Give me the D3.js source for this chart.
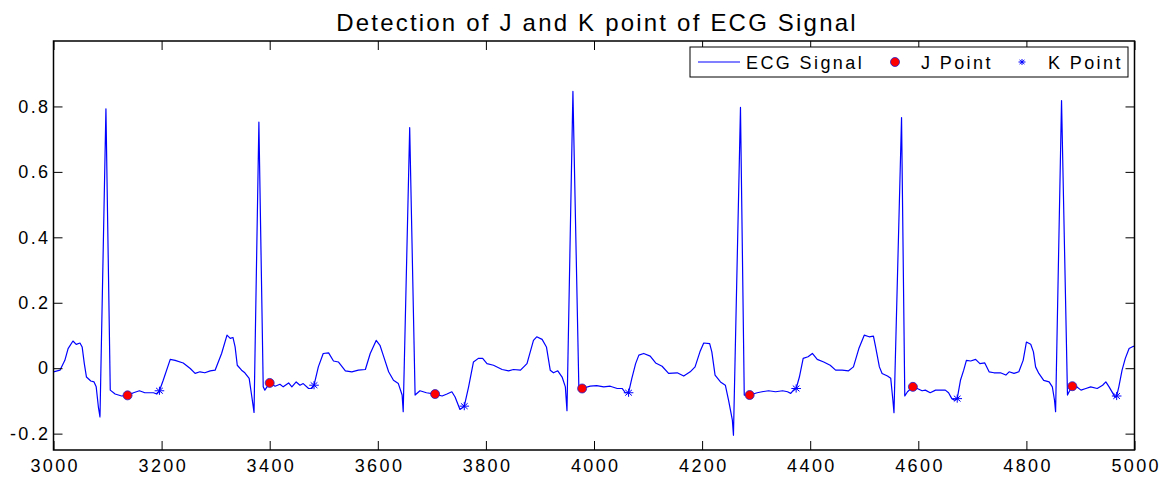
<!DOCTYPE html>
<html>
<head>
<meta charset="utf-8">
<script src="https://cdn.jsdelivr.net/npm/d3@7"></script>
<style>
  html, body { margin: 0; padding: 0; background: #fff; }
  svg { display: block; font-family: "Liberation Sans", Arial, sans-serif; }
</style>
</head>
<body>
<svg id="chart" width="1168" height="479"></svg>
<script>
// ---- Data ----
const sampleIdx = [
  3000,3012,3021,3027,3036,3042,3049,3053,3057,3061,3069,3075,3079,3083,3086,3097,3105,3114,3126,3137,3148,3159,3169,3185,3191,3196,
  3203,3216,3225,3240,3253,3262,3271,3280,3290,3299,3311,3321,3327,3332,3336,3340,3348,3354,3362,3367,3371,3380,3388,3391,3400,3410,
  3419,3425,3435,3441,3449,3456,3462,3472,3478,3482,3490,3499,3509,3518,3527,3540,3552,3564,3577,3586,3597,3604,3610,3620,3629,3638,
  3645,3647,3659,3669,3678,3690,3706,3719,3728,3737,3743,3752,3760,3768,3777,3786,3794,3802,3814,3830,3842,3851,3864,3876,3888,3894,
  3904,3912,3919,3925,3933,3941,3947,3950,3961,3972,3978,3993,4005,4018,4030,4043,4052,4058,4064,4070,4077,4083,4092,4104,4114,4126,
  4138,4154,4166,4178,4187,4196,4203,4214,4218,4224,4234,4243,4249,4256,4258,4271,4278,4288,4302,4311,4323,4336,4349,4358,4364,4369,
  4374,4380,4387,4396,4404,4413,4425,4437,4447,4459,4471,4480,4490,4500,4509,4517,4521,4528,4533,4543,4549,4553,4555,4569,4575,4580,
  4590,4598,4607,4613,4622,4632,4641,4650,4656,4662,4667,4672,4678,4684,4689,4697,4706,4714,4723,4731,4740,4752,4762,4768,4777,4786,
  4794,4800,4808,4813,4817,4823,4832,4842,4848,4852,4854,4865,4876,4879,4885,4893,4901,4910,4919,4931,4941,4947,4953,4960,4964,4967,
  4971,4977,4983,4990,4998,5000
];
const ecgValues = [
  -0.011,-0.006,0.024,0.060,0.083,0.073,0.077,0.065,0.014,-0.027,-0.039,-0.042,-0.057,-0.118,-0.149,0.793,-0.067,-0.079,-0.085,-0.083,-0.075,-0.069,-0.075,-0.075,-0.079,-0.069,
  -0.037,0.027,0.024,0.016,-0.001,-0.016,-0.011,-0.014,-0.008,-0.006,0.045,0.101,0.091,0.094,0.065,0.009,-0.006,-0.014,-0.031,-0.088,-0.135,0.752,-0.057,-0.067,-0.045,-0.055,
  -0.049,-0.057,-0.045,-0.057,-0.042,-0.052,-0.047,-0.062,-0.062,-0.052,0.004,0.045,0.047,0.022,0.019,-0.008,-0.011,-0.006,-0.004,0.045,0.085,0.070,0.040,-0.011,-0.037,-0.047,
  -0.082,-0.133,0.735,-0.082,-0.069,-0.075,-0.079,-0.085,-0.079,-0.072,-0.088,-0.126,-0.116,-0.057,0.019,0.030,0.030,0.014,0.009,-0.004,-0.008,-0.004,-0.006,0.014,0.085,0.096,
  0.088,0.065,-0.006,-0.014,-0.008,-0.027,-0.057,-0.130,0.846,-0.062,-0.062,-0.055,-0.053,-0.057,-0.055,-0.062,-0.062,-0.075,-0.075,-0.031,0.014,0.040,0.045,0.037,0.016,0.006,
  -0.016,-0.014,-0.024,-0.011,0.004,0.050,0.077,0.075,0.050,-0.021,-0.042,-0.052,-0.098,-0.159,-0.205,0.797,-0.082,-0.082,-0.075,-0.072,-0.069,-0.072,-0.069,-0.072,-0.077,-0.067,
  -0.062,-0.027,0.030,0.035,0.045,0.027,0.019,0.009,-0.006,-0.006,-0.008,0.004,0.060,0.101,0.096,0.098,0.065,0.004,-0.016,-0.024,-0.031,-0.098,-0.136,0.766,-0.085,-0.072,
  -0.057,-0.062,-0.069,-0.067,-0.075,-0.067,-0.067,-0.067,-0.075,-0.093,-0.098,-0.093,-0.037,-0.006,0.024,0.022,0.027,0.014,0.016,-0.011,-0.014,-0.014,-0.021,-0.011,-0.016,-0.011,
  0.024,0.080,0.073,0.050,0.004,-0.016,-0.037,-0.042,-0.057,-0.098,-0.133,0.818,-0.082,-0.072,-0.055,-0.057,-0.067,-0.062,-0.057,-0.062,-0.052,-0.042,-0.057,-0.077,-0.089,-0.085,
  -0.057,-0.006,0.030,0.060,0.067,0.067
];
const jPointX = [3137, 3400, 3706, 3978, 4288, 4590, 4885];
const jPointY = [-0.083, -0.045, -0.079, -0.062, -0.082, -0.057, -0.055];
const kPointX = [3196, 3482, 3760, 4064, 4374, 4672, 4967];
const kPointY = [-0.069, -0.052, -0.116, -0.075, -0.062, -0.093, -0.085];
const xTicks = [3000, 3200, 3400, 3600, 3800, 4000, 4200, 4400, 4600, 4800, 5000];
const yTicks = [-0.2, 0, 0.2, 0.4, 0.6, 0.8];
const yTickLabels = ["-0.2", "0", "0.2", "0.4", "0.6", "0.8"];
const legendLabels = ["ECG Signal", "J Point", "K Point"];
const titleText = "Detection of J and K point of ECG Signal";

// ---- Layout ----
const svg = d3.select("#chart");
const L = 53.5, R = 1134.5, T = 41, B = 450;
const x = d3.scaleLinear().domain([3000, 5000]).range([L, R]);
const y = d3.scaleLinear().domain([-0.25, 1]).range([B, T]);
const blue = "#0000ff";

// title
svg.append("text")
  .attr("x", 597).attr("y", 31)
  .attr("text-anchor", "middle")
  .style("font-size", "24px").style("letter-spacing", "2.2px")
  .text(titleText);

// data line
const ecg = sampleIdx.map((s, i) => ({ s, v: ecgValues[i] }));
const line = d3.line().x(d => x(d.s)).y(d => y(d.v));
svg.append("path").datum(ecg)
  .attr("d", line)
  .attr("fill", "none").attr("stroke", blue).attr("stroke-width", 1.2)
  .attr("stroke-linejoin", "round");

// J points
svg.append("g").selectAll("circle")
  .data(jPointX.map((s, i) => ({ s, v: jPointY[i] })))
  .join("circle")
  .attr("cx", d => x(d.s)).attr("cy", d => y(d.v)).attr("r", 4.5)
  .attr("fill", "#ff0000").attr("stroke", "#2020d0").attr("stroke-width", 0.8);

// K points (asterisk)
function asterisk(g, cx, cy, s) {
  const p = `M${cx - s},${cy}L${cx + s},${cy}M${cx},${cy - s * 0.85}L${cx},${cy + s * 0.85}` +
            `M${cx - s * 0.7},${cy - s * 0.6}L${cx + s * 0.7},${cy + s * 0.6}M${cx - s * 0.7},${cy + s * 0.6}L${cx + s * 0.7},${cy - s * 0.6}`;
  g.append("path").attr("d", p).attr("stroke", blue).attr("stroke-width", 1).attr("fill", "none");
}
const kG = svg.append("g");
kPointX.forEach((s, i) => asterisk(kG, x(s), y(kPointY[i]), 4.8));

// axes (inward ticks on all four sides)
const tickFont = g => g.selectAll("text")
  .style("font-size", "18px").style("letter-spacing", "2.4px").attr("fill", "#000");
const bottomAxis = svg.append("g").attr("transform", `translate(0,${B})`)
  .call(d3.axisBottom(x).tickValues(xTicks).tickFormat(d3.format("d")).tickSize(-9).tickPadding(9))
  .call(tickFont);
bottomAxis.selectAll("text").attr("dx", "1.2px");
svg.append("g").attr("transform", `translate(0,${T})`)
  .call(d3.axisTop(x).tickValues(xTicks).tickFormat("").tickSize(-9));
svg.append("g").attr("transform", `translate(${L},0)`)
  .call(d3.axisLeft(y).tickValues(yTicks).tickFormat((d, i) => yTickLabels[i]).tickSize(-9).tickPadding(3))
  .call(tickFont);
svg.append("g").attr("transform", `translate(${R},0)`)
  .call(d3.axisRight(y).tickValues(yTicks).tickFormat("").tickSize(-9));
svg.selectAll(".domain").remove();
svg.selectAll(".tick line").attr("stroke", "#000").attr("stroke-width", 1);

// box
svg.append("rect")
  .attr("x", L).attr("y", T).attr("width", R - L).attr("height", B - T)
  .attr("fill", "none").attr("stroke", "#000").attr("stroke-width", 1.5);

// legend
const lg = svg.append("g");
lg.append("rect").attr("x", 690).attr("y", 47).attr("width", 438).attr("height", 30)
  .attr("fill", "#fff").attr("stroke", "#000").attr("stroke-width", 1);
lg.append("line").attr("x1", 698).attr("x2", 740).attr("y1", 62).attr("y2", 62)
  .attr("stroke", blue).attr("stroke-width", 1);
lg.append("circle").attr("cx", 895).attr("cy", 62).attr("r", 4.5)
  .attr("fill", "#ff0000").attr("stroke", "#2020d0").attr("stroke-width", 0.8);
asterisk(lg, 1022, 62, 3.5);
const legendX = [746, 921, 1048];
lg.selectAll("text.lab").data(legendLabels).join("text")
  .attr("class", "lab")
  .attr("x", (d, i) => legendX[i]).attr("y", 69)
  .style("font-size", "18px").style("letter-spacing", "2.4px")
  .text(d => d);
</script>
</body>
</html>
